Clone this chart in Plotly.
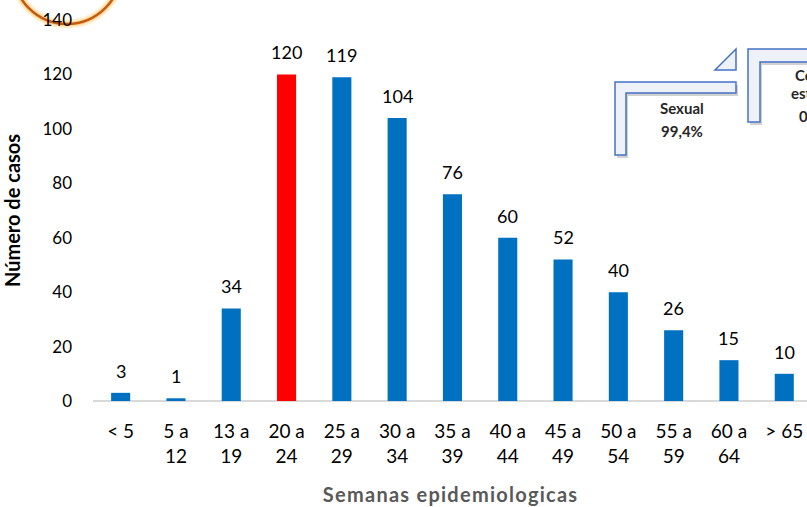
import plotly.graph_objects as go

categories = ["< 5", "5 a<br>12", "13 a<br>19", "20 a<br>24", "25 a<br>29", "30 a<br>34",
              "35 a<br>39", "40 a<br>44", "45 a<br>49", "50 a<br>54", "55 a<br>59",
              "60 a<br>64", "> 65"]
values = [3, 1, 34, 120, 119, 104, 76, 60, 52, 40, 26, 15, 10]
highlight = "20 a<br>24"
y_ticks = [0, 20, 40, 60, 80, 100, 120, 140]

FONT = "Lato, Carlito, Calibri, sans-serif"
W, H = 807, 507
L, R, T, B = 93, 0, 20, 106

colors = ["#FF0000" if c == highlight else "#0070C0" for c in categories]

fig = go.Figure()
fig.add_trace(go.Bar(x=list(range(len(categories))), y=values, marker_color=colors,
                     marker_line_width=0, hoverinfo="skip"))

# data labels
for i, v in enumerate(values):
    fig.add_annotation(x=i, y=v, text=str(v), showarrow=False, yanchor="bottom",
                       yshift=9, font=dict(family=FONT, size=18, color="#000000"))

pw = W - L - R
ph = H - T - B
def px(X):
    return (X - L) / pw
def py(Y):
    return (H - B - Y) / ph

def path(pts):
    return "M " + " L ".join(f"{px(x):.5f},{py(y):.5f}" for x, y in pts) + " Z"

shapes = []
# orange circle (glow + line)
for lw, col in [(9, "rgba(255,210,120,0.35)"), (5, "rgba(255,190,90,0.45)"), (2.5, "#C55A11")]:
    shapes.append(dict(type="circle", xref="paper", yref="paper", layer="below",
                       x0=px(13), x1=px(121), y0=py(24), y1=py(-84),
                       line=dict(color=col, width=lw), fillcolor="rgba(0,0,0,0)"))

L1 = [(615, 82), (736, 82), (736, 93), (626, 93), (626, 155), (615, 155)]
TRI = [(715, 70), (736, 49), (736, 70)]
L2 = [(748, 49), (830, 49), (830, 62), (760, 62), (760, 122), (748, 122)]
for poly in (L1, L2):
    sh = [(x + 2, y + 3) for x, y in poly]
    shapes.append(dict(type="path", xref="paper", yref="paper", path=path(sh),
                       fillcolor="rgba(0,0,0,0.18)", line=dict(width=0)))
for poly in (L1, TRI, L2):
    shapes.append(dict(type="path", xref="paper", yref="paper", path=path(poly),
                       fillcolor="#EEF1F8", line=dict(color="#4472C4", width=1.5)))

ann_font = dict(family=FONT, size=15, color="#262626")
def note(x, y, text, xanchor="center"):
    fig.add_annotation(xref="paper", yref="paper", x=px(x), y=py(y), text="<b>" + text + "</b>",
                       showarrow=False, xanchor=xanchor, yanchor="middle", font=ann_font)

note(682, 108, "Sexual")
note(682, 131, "99,4%")
note(793, 75, "Ce", "left")
note(789, 93, "est", "left")
note(797, 116, "0", "left")

hs = "\u200a"
xtitle = hs.join("Semanas epidemiologicas")

fig.update_layout(
    width=W, height=H, margin=dict(l=L, r=R, t=T, b=B),
    paper_bgcolor="white", plot_bgcolor="white",
    bargap=0.655, showlegend=False, shapes=shapes,
    font=dict(family=FONT, size=17, color="#000000"),
)
fig.update_xaxes(
    tickmode="array", tickvals=list(range(len(categories))), ticktext=categories,
    range=[-0.5, (W - L - R) / 55.3 - 0.5], showgrid=False, zeroline=False,
    showline=False, ticks="", ticklabelstandoff=17,
    tickfont=dict(family=FONT, size=19, color="#000000"),
    title=dict(text="<b>" + xtitle + "</b>", standoff=22,
               font=dict(family=FONT, size=20, color="#595959")),
)
fig.update_yaxes(
    range=[0, 140], tickvals=y_ticks, showgrid=False, zeroline=True,
    zerolinecolor="#D9D9D9", zerolinewidth=1.5, showline=False, ticks="",
    ticklabelstandoff=20, tickfont=dict(family=FONT, size=17, color="#000000"),
    title=dict(text="<b>Número de casos</b>", standoff=16,
               font=dict(family=FONT, size=20, color="#000000")),
)
fig.write_html("out.html", config={"displayModeBar": False},
               post_script="document.body.style.margin='0';")
